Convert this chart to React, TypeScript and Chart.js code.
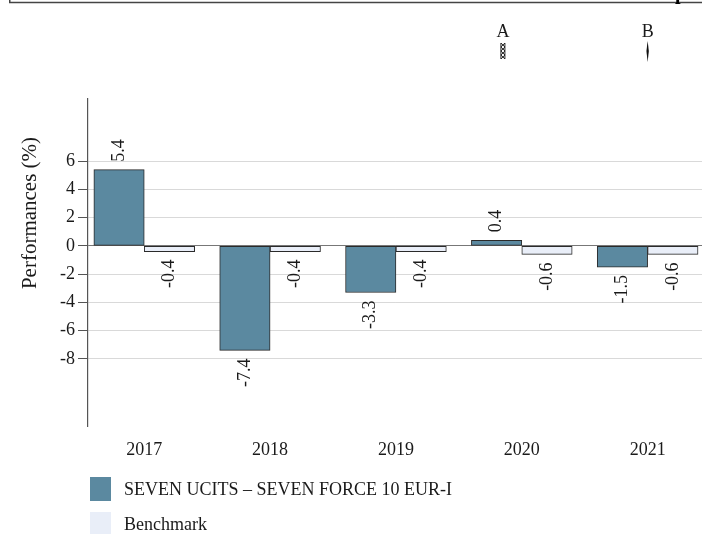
import React, { useEffect, useRef } from 'react';
import { Chart, registerables } from 'chart.js';

Chart.register(...registerables);

const years = ['2017', '2018', '2019', '2020', '2021'];
const fundValues = [5.4, -7.4, -3.3, 0.4, -1.5];
const benchValues = [-0.4, -0.4, -0.4, -0.6, -0.6];
const yTicks = [-8, -6, -4, -2, 0, 2, 4, 6];
const yMin = -12.75;
const yMax = 10.4;
const fundName = 'SEVEN UCITS – SEVEN FORCE 10 EUR-I';
const benchName = 'Benchmark';
const yTitle = 'Performances (%)';
const markerLabels = ['A', 'B'];
const markerPositions = [2.85, 4];
const headerFragment = 'p';

const FONT = "'Liberation Serif', 'Times New Roman', serif";
const fundColor = '#5b89a0';
const benchColor = '#e9eef8';
const ink = '#1a1a1a';

const overlay = {
  id: 'overlay',
  afterDatasetsDraw(chart: any) {
    const ctx = chart.ctx as CanvasRenderingContext2D;
    ctx.save();
    ctx.fillStyle = ink;
    ctx.font = `18px ${FONT}`;
    chart.data.datasets.forEach((ds: any, di: number) => {
      const meta = chart.getDatasetMeta(di);
      meta.data.forEach((el: any, i: number) => {
        const v = ds.data[i].y as number;
        const { x, y } = el.getProps(['x', 'y'], true);
        ctx.save();
        ctx.translate(x, v >= 0 ? y - 8 : y + 8);
        ctx.rotate(-Math.PI / 2);
        ctx.textAlign = v >= 0 ? 'left' : 'right';
        ctx.textBaseline = 'middle';
        ctx.fillText(v.toFixed(1), 0, 0);
        ctx.restore();
      });
    });
    ctx.restore();
  },
  afterDraw(chart: any) {
    const ctx = chart.ctx as CanvasRenderingContext2D;
    const xs = chart.scales.x;
    ctx.save();
    // header frame fragment
    ctx.strokeStyle = '#444';
    ctx.lineWidth = 1.5;
    ctx.beginPath();
    ctx.moveTo(9.75, 0);
    ctx.lineTo(9.75, 2.5);
    ctx.lineTo(chart.width, 2.5);
    ctx.stroke();
    ctx.fillStyle = '#000';
    ctx.font = `bold 20px ${FONT}`;
    ctx.textAlign = 'left';
    ctx.textBaseline = 'alphabetic';
    ctx.fillText(headerFragment, 675, -1);

    // y title
    ctx.fillStyle = ink;
    ctx.font = `21px ${FONT}`;
    ctx.save();
    ctx.translate(30, 213);
    ctx.rotate(-Math.PI / 2);
    ctx.textAlign = 'center';
    ctx.textBaseline = 'middle';
    ctx.fillText(yTitle, 0, 0);
    ctx.restore();

    // markers
    ctx.font = `18px ${FONT}`;
    ctx.textAlign = 'center';
    ctx.textBaseline = 'alphabetic';
    markerLabels.forEach((m, i) => {
      const px = xs.getPixelForValue(markerPositions[i]);
      ctx.fillStyle = ink;
      ctx.fillText(m, px, 37);
      ctx.strokeStyle = '#111';
      ctx.lineWidth = 0.9;
      if (i === 0) {
        ctx.beginPath();
        ctx.moveTo(px - 2, 43);
        ctx.lineTo(px + 2, 47);
        ctx.lineTo(px - 2, 51);
        ctx.lineTo(px + 2, 55);
        ctx.lineTo(px - 2, 59);
        ctx.moveTo(px + 2, 43);
        ctx.lineTo(px - 2, 47);
        ctx.lineTo(px + 2, 51);
        ctx.lineTo(px - 2, 55);
        ctx.lineTo(px + 2, 59);
        ctx.moveTo(px - 2, 43);
        ctx.lineTo(px - 2, 59);
        ctx.moveTo(px + 2, 43);
        ctx.lineTo(px + 2, 59);
        ctx.stroke();
      } else {
        ctx.fillStyle = '#111';
        ctx.beginPath();
        ctx.moveTo(px, 41);
        ctx.lineTo(px + 1.2, 51);
        ctx.lineTo(px, 62);
        ctx.lineTo(px - 1.2, 51);
        ctx.closePath();
        ctx.fill();
      }
    });

    // legend
    const items = chart.data.datasets.map((d: any) => ({ label: d.label, color: d.backgroundColor }));
    ctx.font = `18px ${FONT}`;
    ctx.textAlign = 'left';
    ctx.textBaseline = 'alphabetic';
    items.forEach((it: any, i: number) => {
      const top = 477 + i * 35;
      ctx.fillStyle = it.color;
      ctx.fillRect(90, top, 21, 24);
      ctx.fillStyle = ink;
      ctx.fillText(it.label, 124, top + 18);
    });
    ctx.restore();
  },
};

export default function App() {
  const ref = useRef<HTMLCanvasElement | null>(null);

  useEffect(() => {
    if (!ref.current) return;
    const chart = new Chart(ref.current, {
      type: 'bar',
      data: {
        datasets: [
          {
            label: fundName,
            data: fundValues.map((v, i) => ({ x: i, y: v })),
            backgroundColor: fundColor,
            borderColor: '#2a2a2a',
            borderWidth: 1,
            borderSkipped: false,
            barThickness: 50.4,
          },
          {
            label: benchName,
            data: benchValues.map((v, i) => ({ x: i, y: v })),
            backgroundColor: benchColor,
            borderColor: '#2a2a2a',
            borderWidth: 1,
            borderSkipped: false,
            barThickness: 50.4,
          },
        ],
      },
      options: {
        responsive: false,
        animation: false,
        devicePixelRatio: 1,
        layout: { padding: { top: 99, bottom: 68, left: 0, right: 0 } },
        plugins: {
          legend: { display: false },
          tooltip: { enabled: false },
          title: { display: false },
        },
        scales: {
          x: {
            type: 'linear',
            offset: false,
            min: -0.447,
            max: 4.432,
            grid: { display: false, drawTicks: false, offset: false },
            border: { display: false },
            afterBuildTicks: (s: any) => {
              s.ticks = years.map((_, i) => ({ value: i }));
            },
            afterFit: (s: any) => {
              s.height = 40;
            },
            ticks: {
              autoSkip: false,
              maxRotation: 0,
              padding: 13,
              color: ink,
              font: { family: FONT, size: 18 },
              callback: (v: any) => years[v as number] ?? '',
            },
          },
          y: {
            min: yMin,
            max: yMax,
            afterBuildTicks: (s: any) => {
              s.ticks = yTicks.map((v) => ({ value: v }));
            },
            afterFit: (s: any) => {
              s.width = 88;
            },
            border: { display: true, color: '#555', width: 1.2 },
            grid: {
              color: (c: any) => (c.tick && c.tick.value === 0 ? '#777' : '#d9d9d9'),
              lineWidth: 1,
              tickLength: 10,
              tickColor: '#555',
            },
            ticks: {
              padding: 3,
              color: ink,
              font: { family: FONT, size: 18 },
              callback: (v: any) => String(v),
            },
          },
        },
      },
      plugins: [overlay],
    } as any);
    return () => chart.destroy();
  }, []);

  return (
    <div style={{ position: 'absolute', left: 0, top: 0, width: 702, height: 534, overflow: 'hidden', background: '#fff' }}>
      <canvas ref={ref} width={702} height={534} style={{ display: 'block', width: 702, height: 534 }} />
    </div>
  );
}
